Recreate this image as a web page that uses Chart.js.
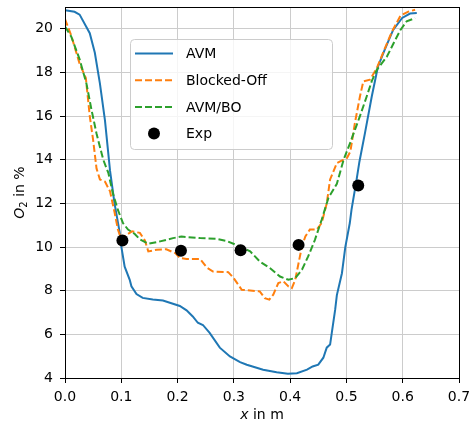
<!DOCTYPE html>
<html>
<head>
<meta charset="utf-8">
<script src="https://cdn.jsdelivr.net/npm/chart.js@4/dist/chart.umd.min.js"></script>
<style>
  body { margin: 0; background: #fff; }
  #wrap { width: 469px; height: 427px; }
</style>
</head>
<body>
<div id="wrap"><canvas id="o2Chart" width="469" height="427"></canvas></div>
<script>
// Axis ticks
const xTicks = [0.0, 0.1, 0.2, 0.3, 0.4, 0.5, 0.6, 0.7];
const yTicks = [4, 6, 8, 10, 12, 14, 16, 18, 20];

// AVM (solid blue)
const avmX = [0.0, 0.017, 0.026, 0.044, 0.053, 0.062, 0.071, 0.080, 0.088, 0.097, 0.100, 0.106, 0.115, 0.118,
  0.127, 0.138, 0.156, 0.174, 0.204, 0.216, 0.227, 0.236, 0.245, 0.257, 0.275, 0.293, 0.311, 0.323, 0.352,
  0.376, 0.396, 0.412, 0.430, 0.440, 0.450, 0.459, 0.465, 0.471, 0.474, 0.480, 0.483, 0.492, 0.498, 0.506,
  0.509, 0.518, 0.523, 0.533, 0.545, 0.556, 0.569, 0.583, 0.599, 0.613, 0.625];
const avmY = [20.85, 20.78, 20.65, 19.8, 18.9, 17.5, 15.8, 13.5, 12.0, 10.7, 10.03, 9.1, 8.5, 8.2,
  7.85, 7.67, 7.6, 7.55, 7.3, 7.1, 6.82, 6.53, 6.43, 6.07, 5.39, 4.99, 4.73, 4.61, 4.38,
  4.26, 4.2, 4.22, 4.38, 4.53, 4.61, 4.93, 5.39, 5.53, 6.07, 7.13, 7.8, 8.8, 10.0, 11.1,
  11.7, 13.08, 13.9, 15.23, 16.9, 18.27, 19.1, 19.95, 20.5, 20.7, 20.72];

// Blocked-Off (dashed orange)
const boX = [0.0, 0.011, 0.026, 0.037, 0.044, 0.050, 0.056, 0.062, 0.071, 0.080, 0.088, 0.094, 0.100, 0.109,
  0.119, 0.133, 0.142, 0.148, 0.163, 0.180, 0.196, 0.204, 0.216, 0.240, 0.252, 0.263, 0.290, 0.299, 0.308,
  0.314, 0.346, 0.355, 0.363, 0.370, 0.379, 0.388, 0.397, 0.403, 0.409, 0.415, 0.421, 0.427, 0.435, 0.447,
  0.456, 0.465, 0.471, 0.483, 0.501, 0.507, 0.515, 0.524, 0.530, 0.542, 0.554, 0.566, 0.581, 0.596, 0.610, 0.622];
const boY = [20.45, 19.7, 18.4, 17.75, 16.0, 14.9, 13.6, 13.1, 13.0, 12.55, 11.6, 10.8, 10.35, 10.56,
  10.72, 10.65, 10.3, 9.8, 9.88, 9.9, 9.72, 9.5, 9.45, 9.45, 9.06, 8.88, 8.85, 8.6, 8.27,
  8.04, 7.97, 7.66, 7.59, 7.82, 8.35, 8.43, 8.2, 8.12, 8.5, 9.27, 10.03, 10.49, 10.8, 10.8,
  11.1, 12.0, 13.1, 13.85, 14.08, 14.38, 15.68, 16.9, 17.59, 17.67, 18.2, 18.96, 19.88, 20.6, 20.79, 20.87];

// AVM/BO (dashed green)
const avmboX = [0.0, 0.011, 0.026, 0.038, 0.047, 0.056, 0.065, 0.068, 0.077, 0.085, 0.094, 0.103, 0.112,
  0.124, 0.133, 0.148, 0.169, 0.192, 0.207, 0.240, 0.269, 0.287, 0.311, 0.329, 0.346, 0.364, 0.382, 0.397,
  0.409, 0.421, 0.432, 0.444, 0.456, 0.468, 0.483, 0.495, 0.507, 0.524, 0.536, 0.545, 0.554, 0.572, 0.584,
  0.596, 0.607, 0.622];
const avmboY = [20.1, 19.65, 18.6, 17.5, 16.3, 15.2, 14.3, 14.0, 13.4, 12.47, 11.7, 11.1, 10.8,
  10.6, 10.35, 10.15, 10.26, 10.41, 10.48, 10.41, 10.38, 10.28, 10.03, 9.8, 9.34, 9.04, 8.65, 8.5,
  8.58, 8.96, 9.57, 10.33, 11.25, 12.25, 12.9, 14.0, 14.8, 16.0, 16.9, 17.6, 18.12, 18.73, 19.35,
  19.95, 20.34, 20.49];

// Experiment
const expX = [0.102, 0.206, 0.312, 0.415, 0.521];
const expY = [10.3, 9.83, 9.85, 10.1, 12.82];

const toPoints = (xs, ys) => xs.map((x, i) => ({ x: x, y: ys[i] }));

const FONT = 'DejaVu Sans';
const series = [
  { label: 'AVM', color: '#1f77b4', dash: [] },
  { label: 'Blocked-Off', color: '#ff7f0e', dash: [7, 3] },
  { label: 'AVM/BO', color: '#2ca02c', dash: [7, 3] },
  { label: 'Exp', color: '#000000', dot: true }
];

// Box round the plot area (top and right spines too)
const framePlugin = {
  id: 'frame',
  afterDatasetsDraw(chart) {
    const a = chart.chartArea, ctx = chart.ctx;
    ctx.save();
    ctx.strokeStyle = '#000';
    ctx.lineWidth = 1;
    ctx.strokeRect(Math.round(a.left) + 0.5, Math.round(a.top) + 0.5,
      Math.round(a.right - a.left), Math.round(a.bottom - a.top));
    ctx.restore();
  }
};

// Legend inside plot, plus axis titles with italic / subscript parts
const labelsPlugin = {
  id: 'labels',
  afterDraw(chart) {
    const ctx = chart.ctx, a = chart.chartArea;
    ctx.save();

    // legend box
    const bx = 130.5, by = 39.5, bw = 202, bh = 110;
    ctx.beginPath();
    ctx.roundRect(bx, by, bw, bh, 4);
    ctx.fillStyle = 'rgba(255,255,255,0.8)';
    ctx.fill();
    ctx.strokeStyle = '#cccccc';
    ctx.lineWidth = 1;
    ctx.stroke();

    ctx.font = '14px "' + FONT + '"';
    ctx.textBaseline = 'middle';
    ctx.textAlign = 'left';
    series.forEach((s, i) => {
      const cy = 53.5 + i * 26.7;
      if (s.dot) {
        ctx.beginPath();
        ctx.arc(154, cy, 6, 0, Math.PI * 2);
        ctx.fillStyle = s.color;
        ctx.fill();
      } else {
        ctx.beginPath();
        ctx.setLineDash(s.dash);
        ctx.strokeStyle = s.color;
        ctx.lineWidth = 2;
        ctx.moveTo(135, cy);
        ctx.lineTo(173, cy);
        ctx.stroke();
        ctx.setLineDash([]);
      }
      ctx.fillStyle = '#000';
      ctx.fillText(s.label, 186, cy + 1);
    });

    // x axis title: "x in m"
    const cx = (a.left + a.right) / 2;
    ctx.fillStyle = '#000';
    ctx.textBaseline = 'alphabetic';
    const fI = 'italic 14px "' + FONT + '"', fR = '14px "' + FONT + '"';
    ctx.font = fI; const wx = ctx.measureText('x').width;
    ctx.font = fR; const wr = ctx.measureText(' in m').width;
    let sx = cx - (wx + wr) / 2;
    ctx.font = fI; ctx.fillText('x', sx, 419);
    ctx.font = fR; ctx.fillText(' in m', sx + wx, 419);

    // y axis title: "O2 in %" rotated
    const cyc = (a.top + a.bottom) / 2;
    ctx.translate(24, cyc);
    ctx.rotate(-Math.PI / 2);
    const fS = '10px "' + FONT + '"';
    ctx.font = fI; const wo = ctx.measureText('O').width;
    ctx.font = fS; const w2 = ctx.measureText('2').width;
    ctx.font = fR; const wt = ctx.measureText(' in %').width;
    sx = -(wo + w2 + wt) / 2;
    ctx.font = fI; ctx.fillText('O', sx, 0);
    ctx.font = fS; ctx.fillText('2', sx + wo, 3);
    ctx.font = fR; ctx.fillText(' in %', sx + wo + w2, 0);

    ctx.restore();
  }
};

const ctx = document.getElementById('o2Chart').getContext('2d');
const o2Chart = new Chart(ctx, {
  type: 'scatter',
  data: {
    datasets: [
      { label: 'AVM', data: toPoints(avmX, avmY), showLine: true, borderColor: '#1f77b4',
        borderWidth: 2, pointRadius: 0, tension: 0, order: 3 },
      { label: 'Blocked-Off', data: toPoints(boX, boY), showLine: true, borderColor: '#ff7f0e',
        borderWidth: 2, borderDash: [7, 3], pointRadius: 0, tension: 0, order: 2 },
      { label: 'AVM/BO', data: toPoints(avmboX, avmboY), showLine: true, borderColor: '#2ca02c',
        borderWidth: 2, borderDash: [7, 3], pointRadius: 0, tension: 0, order: 1 },
      { label: 'Exp', data: toPoints(expX, expY), showLine: false, backgroundColor: '#000',
        borderColor: '#000', pointRadius: 6, pointBorderWidth: 0, order: 0 }
    ]
  },
  options: {
    responsive: false,
    animation: false,
    events: [],
    layout: { padding: { left: 0, top: 7, right: 10, bottom: 0 } },
    plugins: { legend: { display: false }, tooltip: { enabled: false } },
    scales: {
      x: {
        type: 'linear',
        min: 0, max: 0.7,
        afterBuildTicks: s => { s.ticks = xTicks.map(v => ({ value: v })); },
        afterFit: s => { s.height = 49; s.paddingLeft = 0; s.paddingRight = 0; },
        ticks: { callback: v => v.toFixed(1), color: '#000', font: { family: FONT, size: 14 },
          padding: 6, maxRotation: 0, autoSkip: false },
        grid: { color: '#cccccc', lineWidth: 1, tickLength: 5, tickColor: '#000' },
        border: { color: '#000', width: 1 }
      },
      y: {
        type: 'linear',
        min: 4, max: 21,
        afterBuildTicks: s => { s.ticks = yTicks.map(v => ({ value: v })); },
        afterFit: s => { s.width = 65; s.paddingTop = 0; s.paddingBottom = 0; },
        ticks: { color: '#000', font: { family: FONT, size: 14 }, padding: 7, autoSkip: false },
        grid: { color: '#cccccc', lineWidth: 1, tickLength: 5, tickColor: '#000' },
        border: { color: '#000', width: 1 }
      }
    }
  },
  plugins: [framePlugin, labelsPlugin]
});
</script>
</body>
</html>
